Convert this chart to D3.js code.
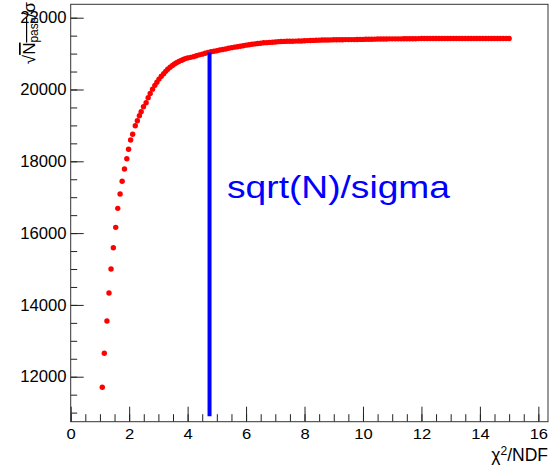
<!DOCTYPE html>
<html>
<head>
<meta charset="utf-8">
<script src="https://cdn.jsdelivr.net/npm/d3@7"></script>
<style>
  body { margin: 0; background: #fff; }
</style>
</head>
<body>
<div id="chart"></div>
<script>
// chi2/NDF cut values and resulting sqrt(N_pass)/sigma
const chi2Cut = [
  1.08, 1.15, 1.24, 1.31, 1.38, 1.46, 1.54, 1.61, 1.69, 1.76, 1.84, 1.92, 1.98, 2.05, 2.12, 2.21, 2.28, 2.35, 2.41, 2.49, 2.58,
  2.65, 2.72, 2.80, 2.88, 2.95, 3.02, 3.10, 3.18, 3.25, 3.32, 3.40, 3.48, 3.55, 3.62, 3.70, 3.78, 3.85, 3.92, 4.00,
  4.1, 4.2, 4.3, 4.4, 4.5, 4.6, 4.7, 4.8, 4.9, 5.0, 5.1, 5.2, 5.3, 5.4, 5.5, 5.6, 5.7, 5.8, 5.9, 6.0,
  6.1, 6.2, 6.3, 6.4, 6.5, 6.6, 6.7, 6.8, 6.9, 7.0, 7.1, 7.2, 7.3, 7.4, 7.5, 7.6, 7.7, 7.8, 7.9, 8.0,
  8.1, 8.2, 8.3, 8.4, 8.5, 8.6, 8.7, 8.8, 8.9, 9.0, 9.1, 9.2, 9.3, 9.4, 9.5, 9.6, 9.7, 9.8, 9.9, 10.0,
  10.1, 10.2, 10.3, 10.4, 10.5, 10.6, 10.7, 10.8, 10.9, 11.0, 11.1, 11.2, 11.3, 11.4, 11.5, 11.6, 11.7, 11.8, 11.9, 12.0,
  12.1, 12.2, 12.3, 12.4, 12.5, 12.6, 12.7, 12.8, 12.9, 13.0, 13.1, 13.2, 13.3, 13.4, 13.5, 13.6, 13.7, 13.8, 13.9, 14.0,
  14.1, 14.2, 14.3, 14.4, 14.5, 14.6, 14.7, 14.8, 14.9, 15.0
]
const signif = [
  11705, 12652, 13551, 14331, 15000, 15593, 16161, 16690, 17089, 17443, 17786, 18072, 18334, 18593, 18752, 18992, 19131, 19270, 19382, 19521, 19632,
  19770, 19890, 20010, 20115, 20205, 20290, 20370, 20440, 20505, 20565, 20620, 20670, 20710, 20745, 20780, 20810, 20835, 20860, 20880,
  20895, 20915, 20940, 20965, 20985, 21010, 21030, 21050, 21065, 21080, 21100, 21115, 21130, 21150, 21165, 21180, 21190, 21205, 21220, 21235,
  21245, 21260, 21270, 21280, 21290, 21300, 21305, 21312, 21318, 21325, 21332, 21338, 21340, 21343, 21345, 21345, 21348, 21350, 21350, 21357,
  21362, 21365, 21368, 21372, 21375, 21378, 21380, 21380, 21382, 21385, 21385, 21385, 21387, 21390, 21390, 21390, 21390, 21393, 21395, 21395,
  21398, 21400, 21400, 21402, 21405, 21405, 21405, 21407, 21410, 21410, 21410, 21410, 21410, 21412, 21415, 21415, 21415, 21415, 21418, 21420,
  21420, 21420, 21420, 21420, 21420, 21420, 21420, 21420, 21420, 21420, 21420, 21420, 21420, 21420, 21420, 21420, 21420, 21420, 21420, 21420,
  21420, 21420, 21420, 21420, 21420, 21420, 21420, 21420, 21420, 21420
]

// chosen cut marker
const cutValue = 4.75
const cutLine = [10900, 21030]
const cutLabel = "sqrt(N)/sigma"

const xTicks = [0, 2, 4, 6, 8, 10, 12, 14, 16]
const yTicks = [12000, 14000, 16000, 18000, 20000, 22000]
const xDomain = [0, 16.33]
const yDomain = [10747, 22373]

const W = 558, H = 465
const FRAME = { LEFT: 70.7, RIGHT: 548, TOP: 4.3, BOTTOM: 421.7 }
const FONT = '"Liberation Sans", Arial, Helvetica, sans-serif'

const svg = d3.select("#chart").append("svg")
  .attr("width", W)
  .attr("height", H)

const x = d3.scaleLinear().domain(xDomain).range([FRAME.LEFT, FRAME.RIGHT])
const y = d3.scaleLinear().domain(yDomain).range([FRAME.BOTTOM, FRAME.TOP])

// minor ticks first
svg.append("g")
  .attr("transform", `translate(0, ${FRAME.BOTTOM})`)
  .call(d3.axisBottom(x).tickValues(d3.range(0, 16.01, 0.5)).tickSize(-7.5).tickFormat(""))
  .call(g => g.select(".domain").remove())
svg.append("g")
  .attr("transform", `translate(${FRAME.LEFT}, 0)`)
  .call(d3.axisLeft(y).tickValues(d3.range(11000, 22001, 500)).tickSize(-6.5).tickFormat(""))
  .call(g => g.select(".domain").remove())

// major ticks + labels
const xAxis = svg.append("g")
  .attr("transform", `translate(0, ${FRAME.BOTTOM})`)
  .call(d3.axisBottom(x).tickValues(xTicks).tickSize(-15).tickPadding(6.5).tickFormat(d3.format("d")))
xAxis.select(".domain").remove()
xAxis.selectAll("text")
  .attr("font-family", FONT).attr("font-size", 15.5).attr("fill", "#000")
  .attr("transform", "scale(1.07,1)")

const yAxis = svg.append("g")
  .attr("transform", `translate(${FRAME.LEFT}, 0)`)
  .call(d3.axisLeft(y).tickValues(yTicks).tickSize(-13).tickPadding(4).tickFormat(d3.format("d")))
yAxis.select(".domain").remove()
yAxis.selectAll("text")
  .attr("font-family", FONT).attr("font-size", 16).attr("fill", "#000")
  .attr("transform", "scale(1.04,1)")

svg.selectAll(".tick line").attr("stroke", "#222")

// frame
svg.append("rect")
  .attr("x", FRAME.LEFT).attr("y", FRAME.TOP)
  .attr("width", FRAME.RIGHT - FRAME.LEFT).attr("height", FRAME.BOTTOM - FRAME.TOP)
  .attr("fill", "none").attr("stroke", "#333").attr("stroke-width", 1)

// data points
svg.append("g").selectAll("circle")
  .data(chi2Cut.map((c, i) => ({ c: c, s: signif[i] })))
  .join("circle")
    .attr("cx", d => x(d.c))
    .attr("cy", d => y(d.s))
    .attr("r", 2.7)
    .attr("fill", "#ff0000")

// cut line
svg.append("line")
  .attr("x1", x(cutValue)).attr("x2", x(cutValue))
  .attr("y1", y(cutLine[0])).attr("y2", y(cutLine[1]))
  .attr("stroke", "#0000ff").attr("stroke-width", 4)

svg.append("text")
  .attr("x", 227).attr("y", 197.5)
  .attr("font-family", FONT).attr("font-size", 32)
  .attr("fill", "#0000ff")
  .attr("textLength", 223).attr("lengthAdjust", "spacingAndGlyphs")
  .text(cutLabel)

// axis titles
const xt = svg.append("text")
  .attr("x", FRAME.RIGHT).attr("y", 461)
  .attr("text-anchor", "end")
  .attr("font-family", FONT).attr("font-size", 17.5)
xt.append("tspan").text("χ")
xt.append("tspan").attr("font-size", 12).attr("dy", -6.5).text("2")
xt.append("tspan").attr("dy", 6.5).text("/NDF")

const yt = svg.append("text")
  .attr("transform", "translate(35, 2) rotate(-90)")
  .attr("text-anchor", "end")
  .attr("font-family", FONT).attr("font-size", 17)
yt.append("tspan").text("√")
yt.append("tspan").style("text-decoration", "overline").text("N")
yt.append("tspan").style("text-decoration", "overline").attr("font-size", 12).attr("dy", 3).text("pass")
yt.append("tspan").attr("dy", -3).text("/σ")
</script>
</body>
</html>
